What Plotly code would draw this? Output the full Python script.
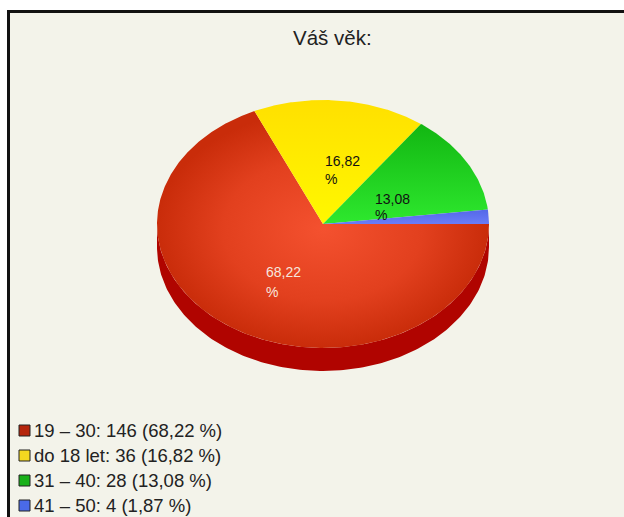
import numpy as np
import plotly.graph_objects as go

categories = ["19 – 30", "do 18 let", "31 – 40", "41 – 50"]
values = [146, 36, 28, 4]
percent_labels = ["68,22", "16,82", "13,08", "1,87"]

W, H = 624, 517
CX, CY, RX, RY, DEPTH = 323, 224, 166, 124, 23
FONT = "Liberation Sans, Arial, sans-serif"

gradients = [
    dict(type="radial", colorscale=[[0, "#f4512f"], [0.6, "#e2401e"], [1, "#c92c0a"]]),
    dict(type="vertical", colorscale=[[0, "#fff800"], [1, "#ffe000"]]),
    dict(type="vertical", colorscale=[[0, "#2ee82e"], [1, "#12b612"]]),
    dict(type="vertical", colorscale=[[0, "#6a7cf8"], [1, "#5468e8"]]),
]
legend_colors = ["#b5250c", "#f4d820", "#18b018", "#4a6ae8"]
label_colors = ["#f6e6de", "#111111", "#111111"]
label_pos = [(264, 272, 292), (323, 161, 179), (373, 199, 215)]

fig = go.Figure()

# rim of the pie
t = np.radians(np.linspace(0, -180, 181))
rim_x = np.r_[np.cos(t), np.cos(t[::-1])]
rim_y = np.r_[np.sin(t) - DEPTH / RY, np.sin(t[::-1])]
fig.add_trace(go.Scatter(x=rim_x, y=rim_y, mode="lines", fill="toself", fillcolor="#b00400",
                         line=dict(width=0), hoverinfo="skip", showlegend=False))

# wedges, clockwise from 3 o'clock
total = sum(values)
start = 0.0
for v, grad in zip(values, gradients):
    sweep = v / total * 360
    a = np.radians(np.linspace(start, start - sweep, max(int(sweep) * 2, 8)))
    fig.add_trace(go.Scatter(x=np.r_[0, np.cos(a), 0], y=np.r_[0, np.sin(a), 0],
                             mode="lines", fill="toself", fillgradient=grad,
                             line=dict(width=0), hoverinfo="skip", showlegend=False))
    start -= sweep

def px(x, y):
    return x / W, 1 - y / H

shapes = [
    dict(type="rect", xref="paper", yref="paper", x0=8.5 / W, x1=1.1, y0=-0.1, y1=1 - 11.5 / H,
         fillcolor="#f3f3ea", line=dict(color="#111111", width=3), layer="below"),
]
annotations = []

tx, ty = px(332, 37)
annotations.append(dict(text="Váš věk:", xref="paper", yref="paper", x=tx, y=ty, showarrow=False,
                        xanchor="center", yanchor="middle", font=dict(family=FONT, size=20.5, color="#222222")))

for pct, col, (lx, ly, ly2) in zip(percent_labels, label_colors, label_pos):
    x, y = px(lx, ly)
    annotations.append(dict(text=pct, xref="paper", yref="paper", x=x, y=y, showarrow=False,
                            xanchor="left", yanchor="middle", font=dict(family=FONT, size=14, color=col)))
    x, y = px(lx, ly2)
    annotations.append(dict(text="%", xref="paper", yref="paper", x=x, y=y, showarrow=False,
                            xanchor="left", yanchor="middle", font=dict(family=FONT, size=14, color=col)))

legend_y = [430, 455, 480, 505]
for cat, v, pct, col, ly in zip(categories, values, percent_labels, legend_colors, legend_y):
    x, y = px(32, ly)
    annotations.append(dict(text=f"{cat}: {v} ({pct} %)", xref="paper", yref="paper", x=x, y=y,
                            showarrow=False, xanchor="left", yanchor="middle",
                            font=dict(family=FONT, size=18.5, color="#222222")))
    x0, y0 = px(19, ly - 5)
    x1, y1 = px(30, ly + 6)
    shapes.append(dict(type="rect", xref="paper", yref="paper", x0=x0, x1=x1, y0=y0, y1=y1,
                       fillcolor=col, line=dict(color="#222222", width=1)))

fig.update_layout(
    width=W, height=H, margin=dict(l=0, r=0, t=0, b=0),
    paper_bgcolor="#ffffff", plot_bgcolor="rgba(0,0,0,0)",
    xaxis=dict(range=[-CX / RX, (W - CX) / RX], visible=False, fixedrange=True),
    yaxis=dict(range=[(CY - H) / RY, CY / RY], visible=False, fixedrange=True),
    shapes=shapes, annotations=annotations, showlegend=False,
)
fig.write_html("out.html", config=dict(displayModeBar=False),
               post_script="document.body.style.margin='0';document.documentElement.style.overflow='hidden';")
